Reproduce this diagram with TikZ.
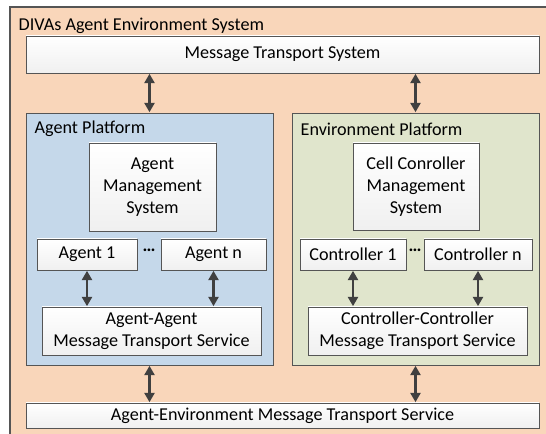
\documentclass[tikz,border=0pt]{standalone}
\usepackage{fontspec}
\setmainfont{Carlito}
\usetikzlibrary{arrows.meta,shadows}
\definecolor{peach}{HTML}{F9D6BA}
\definecolor{platblue}{HTML}{C5D8EA}
\definecolor{platgreen}{HTML}{E0E5CC}
\definecolor{edge}{HTML}{555555}
\definecolor{arrowgray}{HTML}{404040}
\tikzset{
  box/.style={draw=edge, top color=white, bottom color=gray!12, align=center,
    inner sep=0pt, drop shadow={shadow xshift=0.9pt, shadow yshift=-0.9pt, fill=gray!70, opacity=1}},
  platform/.style={draw=edge, inner sep=0pt,
    drop shadow={shadow xshift=0.9pt, shadow yshift=-0.9pt, fill=gray!70, opacity=1}},
  link/.style={{Triangle[width=7.5pt,length=7pt]}-{Triangle[width=7.5pt,length=7pt]}, line width=1.9pt, arrowgray, shorten <=0.4pt, shorten >=0.4pt}
}
\begin{document}
\begin{tikzpicture}[x=0.75pt, y=-0.75pt, font=\fontsize{13.6}{16.5}\selectfont]
\useasboundingbox (0,0) rectangle (546,434);
\clip (0,0) rectangle (546,434);
\draw[edge, fill=peach, line width=0.8pt] (10,7) rectangle (560,450);
\node[anchor=west] (title) at (14,26) {DIVAs Agent Environment System};
% transport layers
\node[box, minimum width=384.75pt, minimum height=27.75pt] (mts) at (282.5,54.5) {Message Transport System};
\node[box, minimum width=384.75pt, minimum height=18.75pt] (aemts) at (282.5,415.5) {Agent-Environment Message Transport Service};
% platforms
\node[platform, fill=platblue, minimum width=185.25pt, minimum height=189pt] (agentplat) at (149.5,239) {};
\node[platform, fill=platgreen, minimum width=185.25pt, minimum height=189pt] (envplat) at (415.5,239) {};
\node[anchor=west] (agentlbl) at (30,129) {Agent Platform};
\node[anchor=west] (envlbl) at (296,129) {Environment Platform};
% agent side
\node[box, minimum width=95.25pt, minimum height=66pt] (ams) at (152.5,187) {Agent\\Management\\System};
\node[box, minimum width=75pt, minimum height=23.25pt] (agent1) at (87,254.5) {Agent 1};
\node[box, minimum width=78.75pt, minimum height=23.25pt] (agentn) at (213.5,254.5) {Agent n};
\node (adots) at (149,250) {\textbf{\dots}};
\node[box, minimum width=164.25pt, minimum height=36pt] (aamts) at (151.5,331) {Agent-Agent\\Message Transport Service};
% environment side
\node[box, minimum width=94.5pt, minimum height=65.25pt] (ccms) at (416,186.5) {Cell Conroller\\Management\\System};
\node[box, minimum width=79.5pt, minimum height=23.25pt] (ctrl1) at (353,254.5) {Controller 1};
\node[box, minimum width=81pt, minimum height=23.25pt] (ctrln) at (478,254.5) {Controller n};
\node (cdots) at (415,250) {\textbf{\dots}};
\node[box, minimum width=164.25pt, minimum height=36pt] (ccmts) at (417.5,331) {Controller-Controller\\Message Transport Service};
% connectors
\draw[link] (mts.south -| agentplat.north) -- (agentplat.north);
\draw[link] (mts.south -| envplat.north) -- (envplat.north);
\draw[link] (agent1.south) -- (agent1.south |- aamts.north);
\draw[link] (agentn.south) -- (agentn.south |- aamts.north);
\draw[link] (ctrl1.south) -- (ctrl1.south |- ccmts.north);
\draw[link] (ctrln.south) -- (ctrln.south |- ccmts.north);
\draw[link] (agentplat.south) -- (agentplat.south |- aemts.north);
\draw[link] (envplat.south) -- (envplat.south |- aemts.north);
\end{tikzpicture}
\end{document}
